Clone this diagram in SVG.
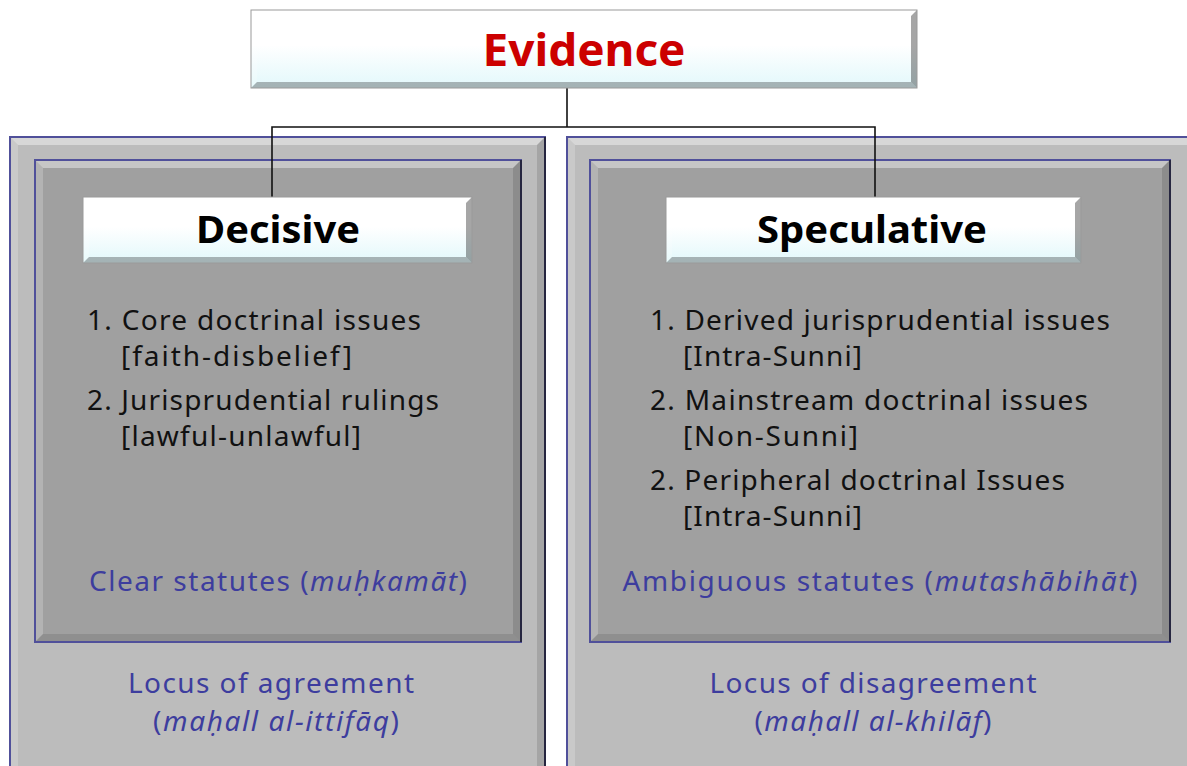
<svg xmlns="http://www.w3.org/2000/svg" width="1187" height="766" viewBox="0 0 1187 766">
  <defs>
    <linearGradient id="boxFill" x1="0" y1="0" x2="0" y2="1">
      <stop offset="0" stop-color="#ffffff"/>
      <stop offset="0.45" stop-color="#ffffff"/>
      <stop offset="1" stop-color="#e2f8fb"/>
    </linearGradient>
  </defs>
  <style>
    .outer { fill: #bcbcbc; }
    .inner { fill: #a0a0a0; }
    .frame { fill: none; stroke: #50509a; stroke-width: 2; }
    .dark { fill: none; stroke: #262640; stroke-width: 2; }
    .box { fill: url(#boxFill); }
    .boxEdge { fill: none; stroke: #9a9a9a; stroke-width: 1; }
    .hiT { fill: #ffffff; fill-opacity: 0.4; }
    .hiL { fill: #ffffff; fill-opacity: 0.2; }
    .shR { fill: #000000; fill-opacity: 0.12; }
    .shB { fill: #000000; fill-opacity: 0.1; }
    .bR { fill: #000000; fill-opacity: 0.35; }
    .bB { fill: #000000; fill-opacity: 0.28; }
    .wire { fill: none; stroke: #111111; stroke-width: 1.6; }
    .title { font-family: "Noto Sans", "Open Sans", sans-serif; font-weight: bold; text-anchor: middle; }
    .item { font-family: "Noto Sans", "Open Sans", sans-serif; font-size: 28px; fill: #111111; }
    .note { font-family: "Noto Sans", "Open Sans", sans-serif; font-size: 28px; fill: #3d3d9e; text-anchor: middle; }
  </style>

  <!-- left outer panel -->
  <g id="panel-agreement">
    <rect class="outer" x="10" y="137" width="535" height="640"/>
    <polygon class="hiT" points="10,137 545,137 537,145 18,145"/>
    <polygon class="hiL" points="10,137 18,145 18,769 10,777"/>
    <polygon class="shR" points="545,137 545,777 537,769 537,145"/>
    <rect class="frame" x="10" y="137" width="535" height="640"/>
    <polyline class="dark" points="545,137 545,777"/>
    <text class="note" x="271" y="693" textLength="286" lengthAdjust="spacing">Locus of agreement</text>
    <text class="note" x="276" y="731" textLength="246" lengthAdjust="spacing">(<tspan font-style="italic">maḥall al-ittifāq</tspan>)</text>
  </g>

  <!-- right outer panel -->
  <g id="panel-disagreement">
    <rect class="outer" x="567" y="137" width="640" height="640"/>
    <polygon class="hiT" points="567,137 1207,137 1199,145 575,145"/>
    <polygon class="hiL" points="567,137 575,145 575,769 567,777"/>
    <rect class="frame" x="567" y="137" width="640" height="640"/>
    <text class="note" x="873" y="693" textLength="327" lengthAdjust="spacing">Locus of disagreement</text>
    <text class="note" x="873" y="731" textLength="237" lengthAdjust="spacing">(<tspan font-style="italic">maḥall al-khilāf</tspan>)</text>
  </g>

  <!-- left inner panel -->
  <g id="panel-clear">
    <rect class="inner" x="35" y="160" width="486" height="482"/>
    <polygon class="hiT" points="35,160 521,160 513,168 43,168"/>
    <polygon class="hiL" points="35,160 43,168 43,634 35,642"/>
    <polygon class="shR" points="521,160 521,642 513,634 513,168"/>
    <polygon class="shB" points="35,642 43,634 513,634 521,642"/>
    <rect class="frame" x="35" y="160" width="486" height="482"/>
    <polyline class="dark" points="521,160 521,642"/>
    <text class="item" x="87" y="330" textLength="334" lengthAdjust="spacing">1. Core doctrinal issues</text>
    <text class="item" x="121" y="366" textLength="231" lengthAdjust="spacing">[faith-disbelief]</text>
    <text class="item" x="87" y="410" textLength="352" lengthAdjust="spacing">2. Jurisprudential rulings</text>
    <text class="item" x="121" y="446" textLength="240" lengthAdjust="spacing">[lawful-unlawful]</text>
    <text class="note" x="278" y="591" textLength="378" lengthAdjust="spacing">Clear statutes (<tspan font-style="italic">muḥkamāt</tspan>)</text>
  </g>

  <!-- right inner panel -->
  <g id="panel-ambiguous">
    <rect class="inner" x="590" y="160" width="580" height="482"/>
    <polygon class="hiT" points="590,160 1170,160 1162,168 598,168"/>
    <polygon class="hiL" points="590,160 598,168 598,634 590,642"/>
    <polygon class="shR" points="1170,160 1170,642 1162,634 1162,168"/>
    <polygon class="shB" points="590,642 598,634 1162,634 1170,642"/>
    <rect class="frame" x="590" y="160" width="580" height="482"/>
    <polyline class="dark" points="1170,160 1170,642"/>
    <text class="item" x="650" y="330" textLength="460" lengthAdjust="spacing">1. Derived jurisprudential issues</text>
    <text class="item" x="683" y="366" textLength="179" lengthAdjust="spacing">[Intra-Sunni]</text>
    <text class="item" x="650" y="410" textLength="438" lengthAdjust="spacing">2. Mainstream doctrinal issues</text>
    <text class="item" x="683" y="446" textLength="175" lengthAdjust="spacing">[Non-Sunni]</text>
    <text class="item" x="650" y="490" textLength="415" lengthAdjust="spacing">2. Peripheral doctrinal Issues</text>
    <text class="item" x="683" y="526" textLength="179" lengthAdjust="spacing">[Intra-Sunni]</text>
    <text class="note" x="880" y="591" textLength="515" lengthAdjust="spacing">Ambiguous statutes (<tspan font-style="italic">mutashābihāt</tspan>)</text>
  </g>

  <!-- connectors -->
  <g id="connectors">
    <polyline class="wire" points="567,88 567,127"/>
    <polyline class="wire" points="272,197 272,127 875,127 875,197"/>
  </g>

  <!-- root node -->
  <g id="node-evidence">
    <rect class="box" x="251" y="10" width="666" height="78"/>
    <polygon class="hiT" points="251,10 917,10 911,16 257,16"/>
    <polygon class="hiL" points="251,10 257,16 257,82 251,88"/>
    <polygon class="bR" points="917,10 917,88 911,82 911,16"/>
    <polygon class="bB" points="251,88 257,82 911,82 917,88"/>
    <rect class="boxEdge" x="251" y="10" width="666" height="78"/>
    <text class="title" x="584" y="66" font-size="45" fill="#cc0000" textLength="203" lengthAdjust="spacingAndGlyphs">Evidence</text>
  </g>

  <!-- decisive node -->
  <g id="node-decisive">
    <rect class="box" x="83" y="197" width="389" height="66"/>
    <polygon class="hiT" points="83,197 472,197 466,203 89,203"/>
    <polygon class="hiL" points="83,197 89,203 89,257 83,263"/>
    <polygon class="bR" points="472,197 472,263 466,257 466,203"/>
    <polygon class="bB" points="83,263 89,257 466,257 472,263"/>
    <rect class="boxEdge" x="83" y="197" width="389" height="66"/>
    <text class="title" x="278" y="243" font-size="38" fill="#000000" textLength="164" lengthAdjust="spacingAndGlyphs">Decisive</text>
  </g>

  <!-- speculative node -->
  <g id="node-speculative">
    <rect class="box" x="666" y="197" width="415" height="66"/>
    <polygon class="hiT" points="666,197 1081,197 1075,203 672,203"/>
    <polygon class="hiL" points="666,197 672,203 672,257 666,263"/>
    <polygon class="bR" points="1081,197 1081,263 1075,257 1075,203"/>
    <polygon class="bB" points="666,263 672,257 1075,257 1081,263"/>
    <rect class="boxEdge" x="666" y="197" width="415" height="66"/>
    <text class="title" x="872" y="243" font-size="38" fill="#000000" textLength="230" lengthAdjust="spacingAndGlyphs">Speculative</text>
  </g>
</svg>
